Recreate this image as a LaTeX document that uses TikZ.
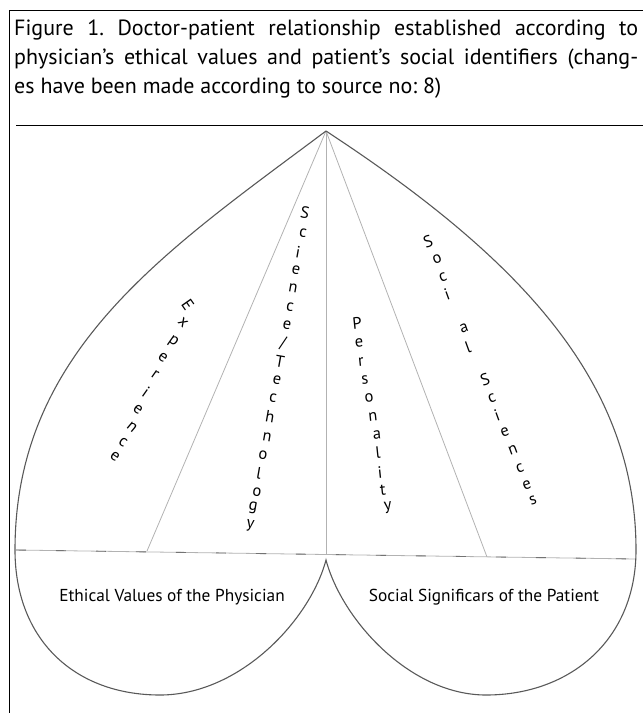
\documentclass[tikz,border=0pt]{standalone}
\usepackage{fontspec}
\setmainfont{PT Sans}
\usetikzlibrary{positioning}
\frenchspacing

\begin{document}
\begin{tikzpicture}[
    x=1pt, y=-1pt,
    frame/.style={draw=black, line width=1pt},
    outline/.style={draw=black!65, line width=1.1pt},
    spoke/.style={draw=black!30, line width=0.8pt},
    letter/.style={inner sep=0pt, font=\fontsize{16.5}{17}\selectfont},
    lobetext/.style={inner sep=0pt, font=\fontsize{17.3}{19}\selectfont}
    ]
    \useasboundingbox (0,0) rectangle (643,713);
    % frame and caption
    \coordinate (fbl) at (9,713);
    \coordinate (ftl) at (9,10);
    \coordinate (ftr) at (643,10);
    \coordinate (rulel) at (16,125);
    \coordinate (ruler) at (643,125);
    \draw[frame] (fbl) -- (ftl) -- (ftr);
    \draw[frame] (rulel) -- (ruler);
    \node[anchor=north west, text width=624pt, align=justify, inner sep=0pt,
          font=\fontsize{22}{29}\selectfont] (caption) at (14,20)
        {Figure 1. Doctor-patient relationship established according to\linebreak
         physician's ethical values and patient's social identifiers (chang-\linebreak
         es have been made according to source no: 8)};
    % heart
    \coordinate (apex) at (326,131);
    \coordinate (cusp) at (326,560);
    \coordinate (lw) at (15,550);
    \coordinate (rw) at (636,550);
    \coordinate (lbot) at (160,695);
    \coordinate (rbot) at (486,695);
    \coordinate (divl) at (16,550);
    \coordinate (divr) at (636,559);
    \coordinate (spl) at (147,551);
    \coordinate (spm) at (326,555);
    \coordinate (spr) at (487,557);
    \draw[spoke] (apex) -- (spl);
    \draw[spoke] (apex) -- (spm);
    \draw[spoke] (apex) -- (spr);
    \draw[spoke] (divl) -- (divr);
    \draw[black!55, line width=0.9pt, dash pattern=on 10pt off 30pt] (divl) -- (divr);
    \draw[outline] (apex) .. controls (167,250) and (15,350) .. (lw)
        .. controls (15,640) and (75,695) .. (lbot)
        .. controls (240,695) and (310,620) .. (cusp)
        .. controls (342,620) and (410,695) .. (rbot)
        .. controls (570,695) and (636,640) .. (rw)
        .. controls (636,380) and (518,257) .. (apex);
    % stacked labels
    \foreach \ch/\px/\py/\rot [count=\i] in {E/188/305/-55, x/183/323/-45, p/173/342/-35,
        e/163/358/-35, r/155/375/-35, i/146/392/-35, e/138/410/-35, n/132/427/-40,
        c/123/442/-35, e/115/457/-35}
        \node[letter, rotate=\rot] (exp\i) at (\px,\py) {\ch};
    \foreach \ch/\px/\py [count=\i] in {S/305/213, c/303/233, i/298/252, e/296/270,
        n/293/288, c/290/307, e/287/325, \slash/283/343, T/280/362, e/277/380,
        c/273/398, h/270/417, n/267/437, o/263/455, l/259/473, o/257/492,
        g/253/508, y/250/526}
        \node[letter, rotate=-10] (sci\i) at (\px,\py) {\ch};
    \foreach \ch/\px/\py [count=\i] in {P/357/323, e/359/343, r/361/362, s/365/380,
        o/369/398, n/373/417, a/377/435, l/378/453, i/380/472, t/383/490, y/388/508}
        \node[letter, rotate=6] (per\i) at (\px,\py) {\ch};
    \foreach \ch/\px/\py [count=\i] in {S/428/242, o/437/259, c/443/277, i/447/294,
        a/464/328, l/468/347, S/485/380, c/492/398, i/497/415, e/505/432,
        n/513/450, c/520/468, e/527/485, s/533/500}
        \node[letter, rotate=20] (soc\i) at (\px,\py) {\ch};
    % lobe labels
    \node[lobetext] (ethics) at (172,597) {Ethical Values of the Physician};
    \node[lobetext] (signif) at (484,597) {Social Significars of the Patient};
\end{tikzpicture}
\end{document}
